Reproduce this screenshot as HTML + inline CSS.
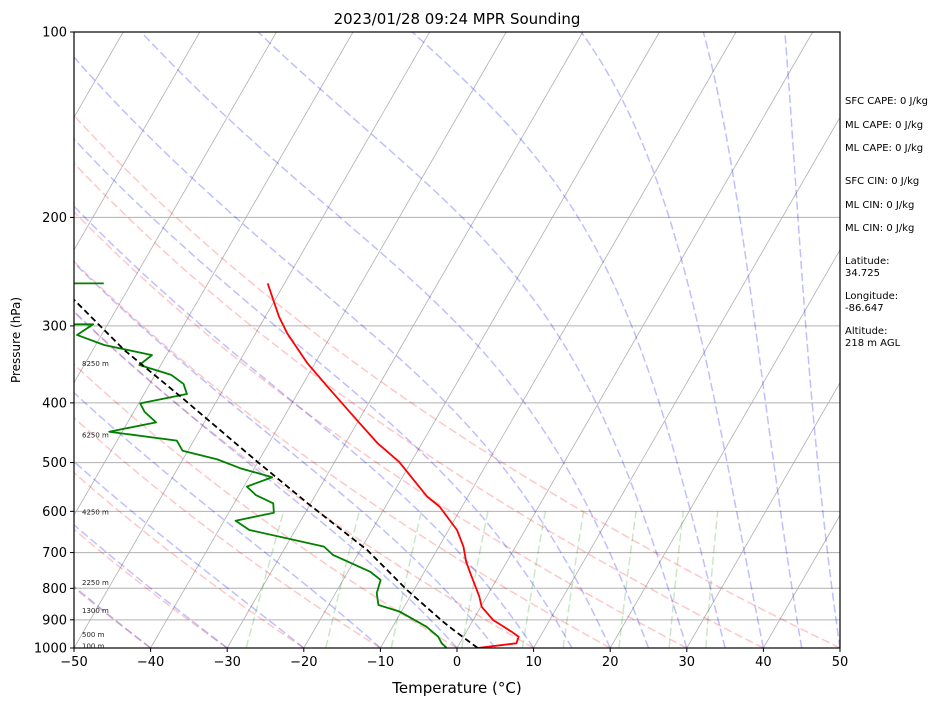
<!DOCTYPE html>
<html><head><meta charset="utf-8"><style>
body{margin:0;background:#fff;}
svg text{font-family:"DejaVu Sans","Liberation Sans",sans-serif;}
</style></head><body>
<svg id="chart" width="946" height="705" viewBox="0 0 946 705" xmlns="http://www.w3.org/2000/svg">
<defs><clipPath id="pc"><rect x="74" y="32" width="766" height="616"/></clipPath></defs>
<rect x="0" y="0" width="946" height="705" fill="#fff"/>
<g id="bg" clip-path="url(#pc)"></g>
<g id="data" clip-path="url(#pc)"></g>
<g id="axes"></g>
<text x="457" y="24" font-size="15" text-anchor="middle">2023/01/28 09:24 MPR Sounding</text>
<text x="457" y="693" font-size="15" text-anchor="middle">Temperature (°C)</text>
<text x="0" y="0" font-size="12" text-anchor="middle" transform="translate(20,340) rotate(-90)">Pressure (hPa)</text>
<g font-size="10">
<text x="845" y="104">SFC CAPE: 0 J/kg</text>
<text x="845" y="128">ML CAPE: 0 J/kg</text>
<text x="845" y="151">ML CAPE: 0 J/kg</text>
<text x="845" y="184">SFC CIN: 0 J/kg</text>
<text x="845" y="208">ML CIN: 0 J/kg</text>
<text x="845" y="231">ML CIN: 0 J/kg</text>
<text x="845" y="264">Latitude:</text>
<text x="845" y="276">34.725</text>
<text x="845" y="299">Longitude:</text>
<text x="845" y="311">-86.647</text>
<text x="845" y="334">Altitude:</text>
<text x="845" y="346">218 m AGL</text>
</g>
</svg>
<script>
const tempP=[1000,982.6,958.7,940.9,900.6,856.8,825.4,800,756,724.5,684.6,643.3,589.8,567.9,498.5,465.2,421.2,376.5,344.9,308.3,289.9,269,255.9];
const tempT=[2.7,7.4,7.2,5.9,2.6,0.1,-0.95,-2.0,-3.9,-5.3,-6.8,-8.9,-12.9,-15.3,-21.6,-25.8,-30.9,-36.6,-41.0,-45.9,-48.2,-50.6,-52.2];
const dewP=[998.9,982.6,958.7,923.4,873,851.4,815.1,775.5,751.7,706.3,684.6,643.3,621.4,603.1,582.2,564.5,547,528.2,510.9,494.1,478.3,460.7,445.6,430.2,413.5,400.7,387,372.7,360.2,347.2,334.6,322.2,310.3,298.2,298,256.1,255.9];
const dewT=[-1.4,-2.35,-3.3,-5.6,-10.2,-13.5,-14.6,-15.1,-17.1,-23.2,-25.0,-36.0,-38.5,-34.1,-34.9,-37.8,-39.6,-37.0,-41.8,-45.5,-50.7,-52.2,-61.7,-56.3,-58.6,-59.8,-54.4,-55.6,-57.9,-62.8,-61.9,-68.9,-73.2,-71.9,-110,-110,-73.6];
const parcelP=[1000,935,906.5,805.1,693.4,582.2,498.5,390.9,328.3,272.3,250];
const parcelT=[2.7,-1.8,-3.8,-10.9,-19.1,-30.4,-40.1,-55.0,-65.9,-76.2,-80];
const xTicks=[-50,-40,-30,-20,-10,0,10,20,30,40,50];
const yTicks=[100,200,300,400,500,600,700,800,900,1000];
const heightLabels=["100 m","500 m","1300 m","2250 m","4250 m","6250 m","8250 m"];
const heightPress=[993,950,870,783,602,451,345];
const mixRatios=[0.0004,0.001,0.002,0.004,0.007,0.01,0.016,0.024,0.032];

const NS="http://www.w3.org/2000/svg";
const X0=74,X1=840,Y0=32,Y1=648,TMIN=-50,TMAX=50,SK=Math.tan(Math.PI/6);
function yP(p){return Y1-Math.log10(1000/p)*(Y1-Y0);}
function xT(t,p){return X0+(t-TMIN)/(TMAX-TMIN)*(X1-X0)+SK*(Y1-yP(p));}
function mk(tag,attrs,parent){const e=document.createElementNS(NS,tag);for(const k in attrs)e.setAttribute(k,attrs[k]);parent.appendChild(e);return e;}
function pathD(ps,ts){let d="";for(let i=0;i<ps.length;i++){d+=(i?"L":"M")+xT(ts[i],ps[i]).toFixed(2)+","+yP(ps[i]).toFixed(2);}return d;}
const bg=document.getElementById('bg'),dg=document.getElementById('data'),ax=document.getElementById('axes');

for(const p of yTicks){const l=mk('line',{x1:X0,x2:X1,y1:yP(p),y2:yP(p),stroke:'#b0b0b0','stroke-width':1},bg);

}
for(let t=-160;t<=50;t+=10){const l=mk('line',{x1:xT(t,1000),y1:yP(1000),x2:xT(t,100),y2:yP(100),stroke:'#b0b0b0','stroke-width':0.8},bg);

}
const pres=[];for(let p=1000;p>=100;p-=10)pres.push(p);
for(let t0=-50;t0<=50;t0+=10){const ts=pres.map(p=>(t0+273.15)*Math.pow(p/1000,0.2857)-273.15);
const e=mk('path',{d:pathD(pres,ts),fill:'none',stroke:'rgba(255,0,0,0.22)','stroke-width':1.5,'stroke-dasharray':'8.3,3.6'},bg);

}
function es(tc){return 6.112*Math.exp(17.67*tc/(tc+243.5));}
function dTdp(p,T){const Rd=287.04,Cp=1005.7,Lv=2.501e6,eps=0.622;const e=es(T-273.15);const rs=eps*e/(p-e);
return (Rd*T+Lv*rs)/(Cp+Lv*Lv*rs*eps/(Rd*T*T))/p;}
const mt0=[-50,-40,-30,-20,-10];for(let t=0;t<=100;t+=5)mt0.push(t);
for(const t0 of mt0){let T=t0+273.15;const ps=[1000],ts=[t0];let p=1000;const h=-5;
while(p>100){const k1=dTdp(p,T),k2=dTdp(p+h/2,T+h/2*k1),k3=dTdp(p+h/2,T+h/2*k2),k4=dTdp(p+h,T+h*k3);
T+=h/6*(k1+2*k2+2*k3+k4);p+=h;ps.push(p);ts.push(T-273.15);}
const e=mk('path',{d:pathD(ps,ts),fill:'none',stroke:'rgba(0,0,255,0.25)','stroke-width':1.5,'stroke-dasharray':'8.3,3.6'},bg);

}
for(const w of mixRatios){const ps=[],ts=[];for(let p=1000;p>=600;p-=20){const e=w*p/(0.622+w);const l=Math.log(e/6.112);ps.push(p);ts.push(243.5*l/(17.67-l));}
const e=mk('path',{d:pathD(ps,ts),fill:'none',stroke:'rgba(0,128,0,0.2)','stroke-width':1.5,'stroke-dasharray':'8.3,3.6'},bg);

}
const tl=mk('path',{d:pathD(tempP,tempT),fill:'none',stroke:'#ff0000','stroke-width':1.8,'stroke-linejoin':'round'},dg);


const dl=mk('path',{d:pathD(dewP,dewT),fill:'none',stroke:'#008000','stroke-width':1.8,'stroke-linejoin':'round'},dg);


const pl=mk('path',{d:pathD(parcelP,parcelT),fill:'none',stroke:'#000','stroke-width':1.8,'stroke-dasharray':'6,3.5'},dg);


for(let i=0;i<heightLabels.length;i++){const t=mk('text',{x:82,y:yP(heightPress[i])+2.5,'font-size':7,fill:'#222'},ax);t.textContent=heightLabels[i];

}
const fr=mk('rect',{x:X0,y:Y0,width:X1-X0,height:Y1-Y0,fill:'none',stroke:'#000','stroke-width':1.2},ax);


for(const t of xTicks){const x=X0+(t-TMIN)/(TMAX-TMIN)*(X1-X0);mk('line',{x1:x,x2:x,y1:Y1,y2:Y1+4,stroke:'#000'},ax);
const tx=mk('text',{x:x,y:Y1+18,'font-size':13,'text-anchor':'middle'},ax);tx.textContent=(t<0?'\u2212'+(-t):t);

}
for(const p of yTicks){const y=yP(p);mk('line',{x1:X0-4,x2:X0,y1:y,y2:y,stroke:'#000'},ax);
const tx=mk('text',{x:X0-7,y:y+4.5,'font-size':13,'text-anchor':'end'},ax);tx.textContent=p;

}
</script>
</body></html>
